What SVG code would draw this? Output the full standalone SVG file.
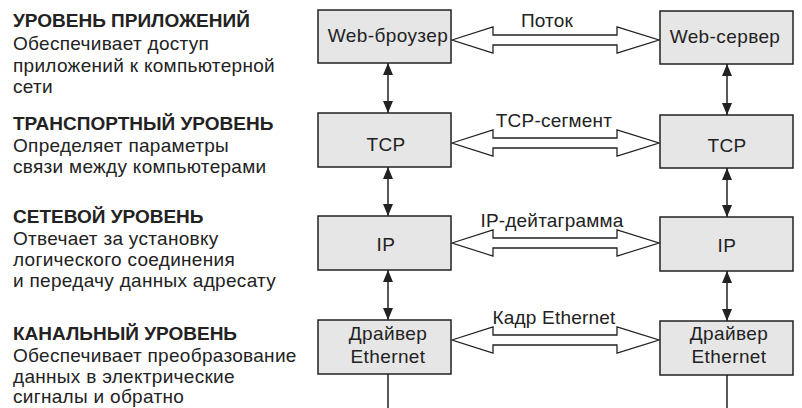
<svg xmlns="http://www.w3.org/2000/svg" width="802" height="408" viewBox="0 0 802 408">
<defs>
<style>
text{font-family:"Liberation Sans",Arial,sans-serif;fill:#222}
.h{font-size:19px;font-weight:bold}
.b{font-size:19px;letter-spacing:0.3px}
.n{font-size:19px;letter-spacing:0.4px;text-anchor:middle}
.l{font-size:19px;letter-spacing:0.2px;text-anchor:middle}
.box{fill:#e6e6e6;stroke:#222;stroke-width:1.5}
.v{stroke:#222;stroke-width:1.5;fill:none}
.fat{fill:#fff;stroke:#222;stroke-width:1.3;stroke-linejoin:miter}
</style>
<marker id="ah" viewBox="0 0 12 10" refX="12" refY="5" markerWidth="12" markerHeight="10" markerUnits="userSpaceOnUse" orient="auto-start-reverse">
<path d="M0,0 L12,5 L0,10 Z" fill="#222"/>
</marker>
</defs>
<rect width="802" height="408" fill="#fff"/>
<g id="legend">
<text class="h" x="13" y="27">УРОВЕНЬ ПРИЛОЖЕНИЙ</text>
<text class="b" x="13" y="50">Обеспечивает доступ</text>
<text class="b" x="13" y="72">приложений к компьютерной</text>
<text class="b" x="13" y="93">сети</text>
<text class="h" x="13" y="130">ТРАНСПОРТНЫЙ УРОВЕНЬ</text>
<text class="b" x="13" y="152">Определяет параметры</text>
<text class="b" x="13" y="173">связи между компьютерами</text>
<text class="h" x="13" y="223">СЕТЕВОЙ УРОВЕНЬ</text>
<text class="b" x="13" y="245">Отвечает за установку</text>
<text class="b" x="13" y="266">логического соединения</text>
<text class="b" x="13" y="287">и передачу данных адресату</text>
<text class="h" x="13" y="340">КАНАЛЬНЫЙ УРОВЕНЬ</text>
<text class="b" x="13" y="362">Обеспечивает преобразование</text>
<text class="b" x="13" y="383">данных в электрические</text>
<text class="b" x="13" y="403">сигналы и обратно</text>
</g>
<g id="connectors">
<line class="v" x1="388" y1="63" x2="388" y2="113" marker-start="url(#ah)" marker-end="url(#ah)"/>
<line class="v" x1="388" y1="167" x2="388" y2="216" marker-start="url(#ah)" marker-end="url(#ah)"/>
<line class="v" x1="388" y1="270" x2="388" y2="320" marker-start="url(#ah)" marker-end="url(#ah)"/>
<line class="v" x1="388" y1="374" x2="388" y2="408"/>
<line class="v" x1="727" y1="64" x2="727" y2="115" marker-start="url(#ah)" marker-end="url(#ah)"/>
<line class="v" x1="727" y1="168" x2="727" y2="217" marker-start="url(#ah)" marker-end="url(#ah)"/>
<line class="v" x1="727" y1="271" x2="727" y2="321" marker-start="url(#ah)" marker-end="url(#ah)"/>
<line class="v" x1="727" y1="375" x2="727" y2="408"/>
<path class="fat" d="M452,40 L493,27 L493,35 L617,35 L617,27 L659,40 L617,53 L617,45 L493,45 L493,53 Z"/>
<path class="fat" d="M452,143 L493,130 L493,138 L617,138 L617,130 L659,143 L617,156 L617,148 L493,148 L493,156 Z"/>
<path class="fat" d="M452,243 L493,230 L493,238 L617,238 L617,230 L659,243 L617,256 L617,248 L493,248 L493,256 Z"/>
<path class="fat" d="M452,340 L493,327 L493,335 L617,335 L617,327 L659,340 L617,353 L617,345 L493,345 L493,353 Z"/>
<text class="l" x="547" y="27">Поток</text>
<text class="l" x="554" y="127">TCP-сегмент</text>
<text class="l" x="552" y="227">IP-дейтаграмма</text>
<text class="l" x="554" y="324">Кадр Ethernet</text>
</g>
<g id="web-browser"><rect class="box" x="318" y="10" width="133" height="53"/><text class="n" x="388" y="42">Web-броузер</text></g>
<g id="tcp-left"><rect class="box" x="318" y="113" width="133" height="54"/><text class="n" x="386" y="151">TCP</text></g>
<g id="ip-left"><rect class="box" x="318" y="216" width="133" height="54"/><text class="n" x="386" y="251">IP</text></g>
<g id="eth-left"><rect class="box" x="318" y="320" width="133" height="54"/><text class="n" x="388" y="340">Драйвер</text><text class="n" x="388" y="363">Ethernet</text></g>
<g id="web-server"><rect class="box" x="660" y="11" width="133" height="53"/><text class="n" x="725" y="43">Web-сервер</text></g>
<g id="tcp-right"><rect class="box" x="660" y="115" width="133" height="53"/><text class="n" x="727" y="152">TCP</text></g>
<g id="ip-right"><rect class="box" x="660" y="217" width="133" height="54"/><text class="n" x="727" y="252">IP</text></g>
<g id="eth-right"><rect class="box" x="660" y="321" width="133" height="54"/><text class="n" x="729" y="340">Драйвер</text><text class="n" x="729" y="363">Ethernet</text></g>
</svg>
